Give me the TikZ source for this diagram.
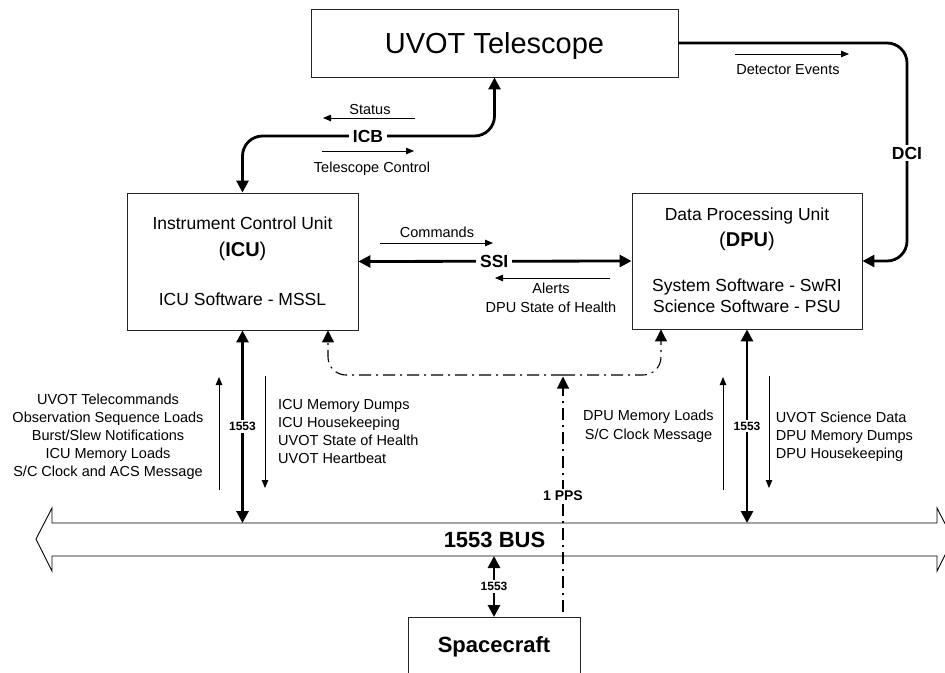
\documentclass[tikz,border=0pt]{standalone}
\usepackage{fontspec}
\setmainfont{Liberation Sans}
\usetikzlibrary{arrows.meta}

\tikzset{
  frame/.style={draw=black!85, line width=0.9pt, inner sep=0pt},
  duplex/.style={line width=2.8pt, {Triangle[length=12pt,width=12pt]}-{Triangle[length=12pt,width=12pt]}},
  simplex/.style={line width=2.8pt, -{Triangle[length=12pt,width=12pt]}},
  hint/.style={line width=0.8pt, -{Triangle[length=8pt,width=6.5pt]}},
  sync/.style={line width=1.1pt, dash pattern=on 12pt off 5pt on 2pt off 5pt, -{Triangle[length=12pt,width=12pt]}},
  small/.style={font=\fontsize{14.5}{18}\selectfont, inner sep=0pt, anchor=base},
  boxtext/.style={font=\fontsize{17.5}{21}\selectfont, inner sep=0pt, anchor=base},
  tag/.style={font=\bfseries\fontsize{17.5}{21}\selectfont, fill=white, inner xsep=4pt, inner ysep=2pt},
  mini/.style={font=\bfseries\fontsize{12}{14}\selectfont, fill=white, inner xsep=1.5pt, inner ysep=2pt},
}

\begin{document}
\begin{tikzpicture}[x=1pt,y=-1pt]
\useasboundingbox (0,0) rectangle (945,672);
\clip (0,0) rectangle (945,672);

% ---------- boxes ----------
\node[frame, minimum width=367pt, minimum height=68pt] (tel) at (494.5,43) {};
\node[font=\fontsize{29}{34}\selectfont, inner sep=0pt, anchor=base] (telT) at (494.5,53.5) {UVOT Telescope};

\node[frame, minimum width=231pt, minimum height=137pt] (icu) at (242.5,261.5) {};
\node[boxtext] (icuA) at (242.5,229.3) {Instrument Control Unit};
\node[boxtext, font=\fontsize{20}{24}\selectfont] (icuB) at (242.5,256) {(\textbf{ICU})};
\node[boxtext] (icuC) at (242.5,305) {ICU Software - MSSL};

\node[frame, minimum width=230pt, minimum height=136pt] (dpu) at (747,261) {};
\node[boxtext] (dpuA) at (747,220.7) {Data Processing Unit};
\node[boxtext, font=\fontsize{20}{24}\selectfont] (dpuB) at (747,246.7) {(\textbf{DPU})};
\node[boxtext] (dpuC) at (747,291) {System Software - SwRI};
\node[boxtext] (dpuD) at (747,312.3) {Science Software - PSU};

\node[frame, minimum width=172pt, minimum height=62pt, anchor=north] (sc) at (494,617) {};
\node[font=\bfseries\fontsize{22}{26}\selectfont, inner sep=0pt, anchor=base] (scT) at (494,652) {Spacecraft};

% ---------- 1553 bus ----------
\coordinate (busN) at (494,523);
\coordinate (busS) at (494,556);
\draw[line width=0.9pt, line join=miter]
  (36,539) -- (52,508) -- (52,523) -- (937,523) -- (937,508) -- (953,539)
  -- (937,571) -- (937,556) -- (52,556) -- (52,571) -- cycle;
\node[font=\bfseries\fontsize{22}{26}\selectfont, inner sep=0pt, anchor=base] (bus) at (494.5,547) {1553 BUS};

% ---------- ICB link ----------
\coordinate (icbC) at (368,136);
\draw[duplex, rounded corners=20pt] (tel.south) |- (icbC) -| (icu.north);
\node[tag] (icb) at (icbC) {ICB};

\coordinate (stA) at (415,118); \coordinate (stB) at (323,118);
\draw[hint] (stA) -- (stB);
\node[small] (stT) at (370,114) {Status};
\coordinate (tcA) at (322,151); \coordinate (tcB) at (414,151);
\draw[hint] (tcA) -- (tcB);
\node[small] (tcT) at (372,172) {Telescope Control};

% ---------- DCI link ----------
\coordinate (dciC) at (907,153);
\draw[simplex, rounded corners=20pt] (tel.east) -| (dciC) |- (dpu.east);
\node[tag] (dci) at (dciC) {DCI};
\coordinate (deA) at (735,54); \coordinate (deB) at (849,54);
\draw[hint] (deA) -- (deB);
\node[small] (deT) at (788,74) {Detector Events};

% ---------- SSI link ----------
\draw[duplex] (icu.east) -- (dpu.west) node[tag, pos=0.497] (ssi) {SSI};
\coordinate (cmA) at (380,243); \coordinate (cmB) at (493,243);
\draw[hint] (cmA) -- (cmB);
\node[small] (cmT) at (437,237.3) {Commands};
\coordinate (alA) at (610,278); \coordinate (alB) at (495,278);
\draw[hint] (alA) -- (alB);
\node[small] (alT) at (551,293.3) {Alerts};
\node[small] (alU) at (551,312.3) {DPU State of Health};

% ---------- ICU to bus ----------
\draw[duplex] (icu.south) -- (icu.south |- busN) node[mini, pos=0.5] (icuBus) {1553};
\coordinate (iuA) at (219,490); \coordinate (iuB) at (219,377);
\draw[hint] (iuA) -- (iuB);
\foreach \t [count=\i] in {UVOT Telecommands, Observation Sequence Loads,
    Burst/Slew Notifications, ICU Memory Loads, S/C Clock and ACS Message}
  \node[small] (icuUp\i) at (108,386.3+18*\i) {\t};
\coordinate (idA) at (265,376); \coordinate (idB) at (265,488);
\draw[hint] (idA) -- (idB);
\foreach \t [count=\i] in {ICU Memory Dumps, ICU Housekeeping,
    UVOT State of Health, UVOT Heartbeat}
  \node[small, anchor=base west] (icuDn\i) at (278,391.3+18*\i) {\t};

% ---------- DPU to bus ----------
\draw[duplex] (dpu.south) -- (dpu.south |- busN) node[mini, pos=0.5] (dpuBus) {1553};
\coordinate (duA) at (723,490); \coordinate (duB) at (723,377);
\draw[hint] (duA) -- (duB);
\node[small] (dpuUp1) at (648.5,420.7) {DPU Memory Loads};
\node[small] (dpuUp2) at (648.5,439) {S/C Clock Message};
\coordinate (ddA) at (769,376); \coordinate (ddB) at (769,488);
\draw[hint] (ddA) -- (ddB);
\foreach \t [count=\i] in {UVOT Science Data, DPU Memory Dumps, DPU Housekeeping}
  \node[small, anchor=base west] (dpuDn\i) at (775.7,403.9+18.3*\i) {\t};

% ---------- spacecraft to bus ----------
\draw[duplex] (busS) -- (sc.north) node[mini, pos=0.5] (scBus) {1553};

% ---------- 1 PPS timing ----------
\coordinate (ppsJ) at (563,375);
\coordinate (ppsTip) at (563,376.5);
\coordinate (ppsFoot) at (563,612);
\draw[sync, rounded corners=18pt] (ppsJ) -| ([xshift=85.5pt]icu.south);
\draw[sync, rounded corners=18pt] (ppsJ) -| ([xshift=-86pt]dpu.south);
\draw[sync] (ppsFoot) -- (ppsTip);
\node[font=\bfseries\fontsize{14}{16}\selectfont, fill=white, inner xsep=1.5pt, inner ysep=2pt] (pps) at (563,495.5) {1 PPS};
\end{tikzpicture}
\end{document}
